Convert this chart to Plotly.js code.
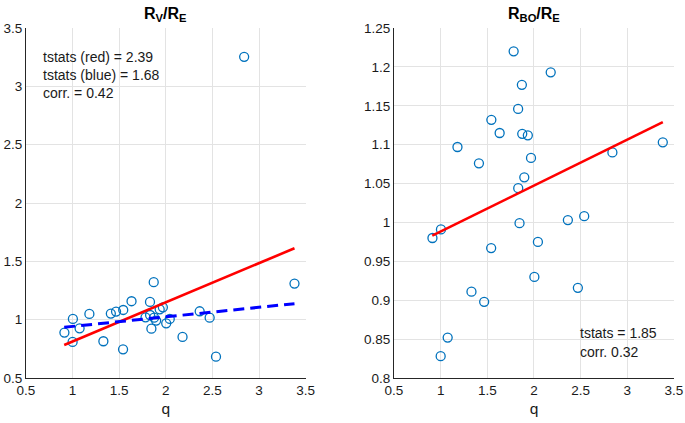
<!DOCTYPE html>
<html>
<head>
<meta charset="utf-8">
<script src="https://cdn.plot.ly/plotly-3.0.1.min.js"></script>
<style>html,body{margin:0;padding:0;background:#fff;}#chart{width:685px;height:423px;}</style>
</head>
<body>
<div id="chart"></div>
<script>
// Data
const q = [0.912, 1.003, 1.0, 1.075, 1.18, 1.33, 1.41, 1.466, 1.543, 1.541, 1.632, 1.782, 1.83, 1.831, 1.845, 1.87, 1.874, 1.896, 1.934, 1.968, 2.004, 2.042, 2.179, 2.363, 2.47, 2.538, 2.84, 3.38];
const rvRe = [0.889, 1.006, 0.809, 0.926, 1.049, 0.815, 1.052, 1.069, 1.083, 0.746, 1.158, 1.020, 1.152, 1.040, 0.923, 1.321, 1.017, 0.992, 1.089, 1.106, 0.969, 1.006, 0.852, 1.072, 1.017, 0.683, 3.253, 1.309];
const rboRe = [0.980, 0.991, 0.828, 0.852, 1.097, 0.911, 1.076, 0.898, 1.132, 0.967, 1.115, 1.220, 1.146, 1.044, 0.999, 1.177, 1.114, 1.058, 1.112, 1.083, 0.930, 0.975, 1.193, 1.003, 0.916, 1.008, 1.090, 1.103];
const fitQ = [0.91, 3.38];
const rvRedFit = [0.783, 1.612];
const rvBlueFit = [0.935, 1.137];
const rboRedFit = [0.983, 1.129];

const xTicks = [0.5, 1, 1.5, 2, 2.5, 3, 3.5];
const xTickText = ['0.5', '1', '1.5', '2', '2.5', '3', '3.5'];
const yTicksL = [0.5, 1, 1.5, 2, 2.5, 3, 3.5];
const yTickTextL = ['0.5', '1', '1.5', '2', '2.5', '3', '3.5'];
const yTicksR = [0.8, 0.85, 0.9, 0.95, 1, 1.05, 1.1, 1.15, 1.2, 1.25];
const yTickTextR = ['0.8', '0.85', '0.9', '0.95', '1', '1.05', '1.1', '1.15', '1.2', '1.25'];

const FONT = 'Liberation Sans, Arial, Helvetica, sans-serif';
const markerStyle = {symbol: 'circle-open', size: 9, color: '#0072BD', line: {width: 1.3, color: '#0072BD'}};

const traces = [
  {x: q, y: rvRe, type: 'scatter', mode: 'markers', marker: markerStyle, xaxis: 'x', yaxis: 'y', hoverinfo: 'none'},
  {x: fitQ, y: rvRedFit, type: 'scatter', mode: 'lines', line: {color: '#FF0000', width: 2.6}, xaxis: 'x', yaxis: 'y'},
  {x: fitQ, y: rvBlueFit, type: 'scatter', mode: 'lines', line: {color: '#0000FF', width: 3, dash: '11px,6px'}, xaxis: 'x', yaxis: 'y'},
  {x: q, y: rboRe, type: 'scatter', mode: 'markers', marker: markerStyle, xaxis: 'x2', yaxis: 'y2', hoverinfo: 'none'},
  {x: fitQ, y: rboRedFit, type: 'scatter', mode: 'lines', line: {color: '#FF0000', width: 2.6}, xaxis: 'x2', yaxis: 'y2'}
];

const axisCommon = {
  showgrid: true, gridcolor: '#e3e3e3', gridwidth: 1,
  zeroline: false, showline: true, linecolor: '#262626', linewidth: 1,
  ticks: '', tickfont: {family: FONT, size: 13.5, color: '#1a1a1a'},
  tickmode: 'array', fixedrange: true
};

const txtFont = {family: FONT, size: 14, color: '#1a1a1a'};

const layout = {
  width: 685, height: 423,
  margin: {l: 26, r: 11, t: 28, b: 45},
  paper_bgcolor: '#ffffff', plot_bgcolor: '#ffffff',
  showlegend: false,
  xaxis: Object.assign({}, axisCommon, {domain: [0, 0.4316], range: [0.5, 3.5], tickvals: xTicks, ticktext: xTickText, anchor: 'y',
    title: {text: 'q', font: {family: FONT, size: 15.5, color: '#1a1a1a'}, standoff: 5}}),
  yaxis: Object.assign({}, axisCommon, {domain: [0, 1], range: [0.5, 3.5], tickvals: yTicksL, ticktext: yTickTextL, anchor: 'x'}),
  xaxis2: Object.assign({}, axisCommon, {domain: [0.5679, 1], range: [0.5, 3.5], tickvals: xTicks, ticktext: xTickText, anchor: 'y2',
    title: {text: 'q', font: {family: FONT, size: 15.5, color: '#1a1a1a'}, standoff: 5}}),
  yaxis2: Object.assign({}, axisCommon, {domain: [0, 1], range: [0.8, 1.25], tickvals: yTicksR, ticktext: yTickTextR, anchor: 'x2'}),
  annotations: [
    {text: '<b>R<sub>V</sub>/R<sub>E</sub></b>', xref: 'paper', yref: 'paper', x: 0.2158, y: 1.005, xanchor: 'center', yanchor: 'bottom', showarrow: false,
     font: {family: FONT, size: 16, color: '#000'}},
    {text: '<b>R<sub>BO</sub>/R<sub>E</sub></b>', xref: 'paper', yref: 'paper', x: 0.7840, y: 1.005, xanchor: 'center', yanchor: 'bottom', showarrow: false,
     font: {family: FONT, size: 16, color: '#000'}},
    {text: 'tstats (red) = 2.39', xref: 'x', yref: 'y', x: 0.661, y: 3.253, xanchor: 'left', yanchor: 'middle', showarrow: false, font: txtFont},
    {text: 'tstats (blue) = 1.68', xref: 'x', yref: 'y', x: 0.661, y: 3.101, xanchor: 'left', yanchor: 'middle', showarrow: false, font: txtFont},
    {text: 'corr. = 0.42', xref: 'x', yref: 'y', x: 0.661, y: 2.947, xanchor: 'left', yanchor: 'middle', showarrow: false, font: txtFont},
    {text: 'tstats = 1.85', xref: 'x2', yref: 'y2', x: 2.471, y: 0.8577, xanchor: 'left', yanchor: 'middle', showarrow: false, font: txtFont},
    {text: 'corr. 0.32', xref: 'x2', yref: 'y2', x: 2.471, y: 0.834, xanchor: 'left', yanchor: 'middle', showarrow: false, font: txtFont}
  ]
};

Plotly.newPlot('chart', traces, layout, {staticPlot: true, displayModeBar: false});
</script>
</body>
</html>
